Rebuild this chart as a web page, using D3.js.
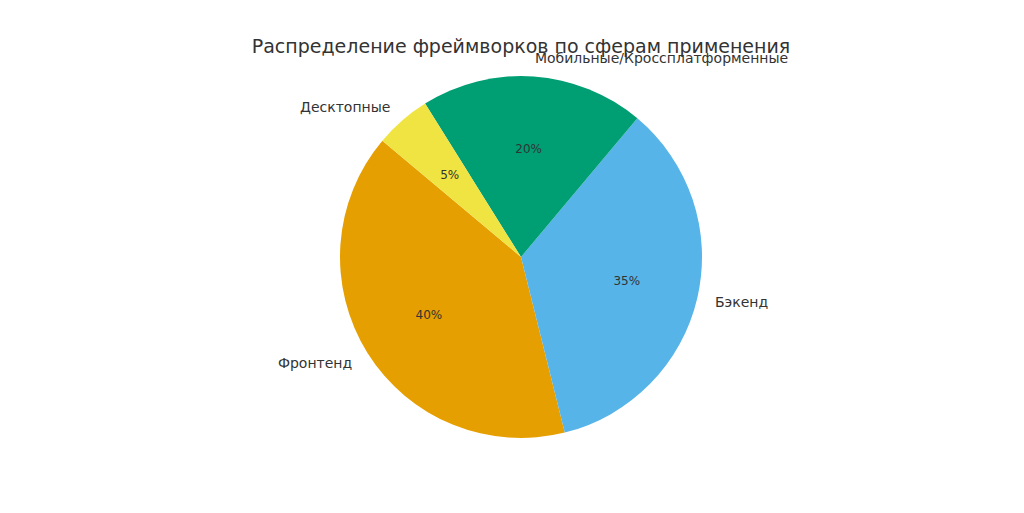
<!DOCTYPE html>
<html>
<head>
<meta charset="utf-8">
<script src="https://cdn.jsdelivr.net/npm/d3@7"></script>
<style>
  body { margin: 0; background: #fff; }
  text { font-family: "DejaVu Sans", sans-serif; fill: #333; }
</style>
</head>
<body>
<svg></svg>
<script>
// data
var categories = ['Фронтенд', 'Бэкенд', 'Мобильные/Кроссплатформенные', 'Десктопные']
var values = [40, 35, 20, 5]
var colors = ['#E69F00', '#56B4E9', '#009E73', '#F0E442']

var width = 1024, height = 513
var cx = 521, cy = 257, r = 181

var svg = d3.select('svg').attr('width', width).attr('height', height)

svg.append('text')
  .attr('x', 521).attr('y', 53)
  .attr('text-anchor', 'middle')
  .style('font-size', '19px')
  .text('Распределение фреймворков по сферам применения')

// matplotlib startangle=140, counterclockwise
var start = (90 - 140) * Math.PI / 180
var pie = d3.pie().sort(null).startAngle(start).endAngle(start - 2 * Math.PI)
var arcs = pie(values)
var arc = d3.arc().innerRadius(0).outerRadius(r)

var g = svg.append('g').attr('transform', `translate(${cx},${cy})`)

g.selectAll('path')
  .data(arcs)
  .enter()
  .append('path')
  .attr('d', arc)
  .attr('fill', (d, i) => colors[i])

function mid(d) { return (d.startAngle + d.endAngle) / 2 }

g.selectAll('.lbl')
  .data(arcs)
  .enter()
  .append('text')
  .attr('x', d => 1.1 * r * Math.sin(mid(d)))
  .attr('y', d => -1.1 * r * Math.cos(mid(d)))
  .attr('text-anchor', d => Math.sin(mid(d)) > 0 ? 'start' : 'end')
  .attr('dominant-baseline', 'central')
  .style('font-size', '14px')
  .text((d, i) => categories[i])

g.selectAll('.pct')
  .data(arcs)
  .enter()
  .append('text')
  .attr('x', d => 0.6 * r * Math.sin(mid(d)))
  .attr('y', d => -0.6 * r * Math.cos(mid(d)))
  .attr('text-anchor', 'middle')
  .attr('dominant-baseline', 'central')
  .style('font-size', '12px')
  .text(d => d.data + '%')
</script>
</body>
</html>
